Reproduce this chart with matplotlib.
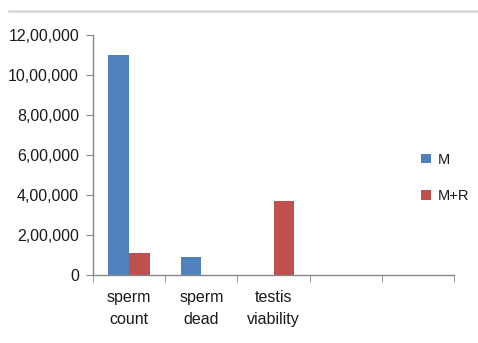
import matplotlib
matplotlib.use("Agg")
import matplotlib.pyplot as plt
from matplotlib.lines import Line2D
from matplotlib.patches import Patch
import numpy as np

categories = ["sperm\ncount", "sperm\ndead", "testis\nviability", "", ""]
series_names = ["M", "M+R"]
m_values = [1100000, 90000, 0, 0, 0]
mr_values = [108000, 0, 368000, 0, 0]
yticks = [0, 200000, 400000, 600000, 800000, 1000000, 1200000]
ytick_labels = ["0", "2,00,000", "4,00,000", "6,00,000", "8,00,000", "10,00,000", "12,00,000"]

colors = ["#4F81BD", "#C0504D"]
axis_color = "#868686"
plt.rcParams['font.family'] = ['Liberation Sans', 'DejaVu Sans']
fs = 11.5

fig = plt.figure(figsize=(4.78, 3.43), dpi=100)
ax = fig.add_axes([93/478, 1-275/343, (454-93)/478, 240/343])

x = np.arange(len(categories))
w = 1/3.5
ax.bar(x - w/2, m_values, w, color=colors[0], label=series_names[0])
ax.bar(x + w/2, mr_values, w, color=colors[1], label=series_names[1])

ax.set_xlim(-0.5, len(categories) - 0.5)
ax.set_ylim(0, 1200000)
ax.set_yticks(yticks)
ax.set_yticklabels(ytick_labels, fontsize=fs, color="#1a1a1a")
ax.set_xticks(x)
ax.set_xticklabels(categories, fontsize=fs, linespacing=1.55, color="#1a1a1a")
ax.tick_params(axis='x', length=0, pad=11)
ax.set_xticks(np.arange(len(categories) + 1) - 0.5, minor=True)
ax.tick_params(axis='x', which='minor', length=5, color=axis_color, direction='out')
ax.tick_params(axis='y', length=5, color=axis_color, direction='out', pad=5)

for s in ['top', 'right']:
    ax.spines[s].set_visible(False)
for s in ['left', 'bottom']:
    ax.spines[s].set_color(axis_color)
    ax.spines[s].set_linewidth(1)

handles = [Patch(facecolor=colors[0], label=series_names[0]),
           Patch(facecolor=colors[1], label=series_names[1])]
leg = fig.legend(handles=handles, loc='center left', bbox_to_anchor=(417/478, 1-178/343),
           frameon=False, fontsize=10.5, handlelength=0.65, handleheight=0.65,
           handletextpad=0.45, labelspacing=1.55, borderaxespad=0, borderpad=0.3)
for t in leg.get_texts():
    t.set_color("#1a1a1a")

fig.add_artist(Line2D([9/478, 1], [1-11/343, 1-11/343], transform=fig.transFigure,
                      color="#d9d9d9", linewidth=2))

fig.savefig("out.png", dpi=100)
